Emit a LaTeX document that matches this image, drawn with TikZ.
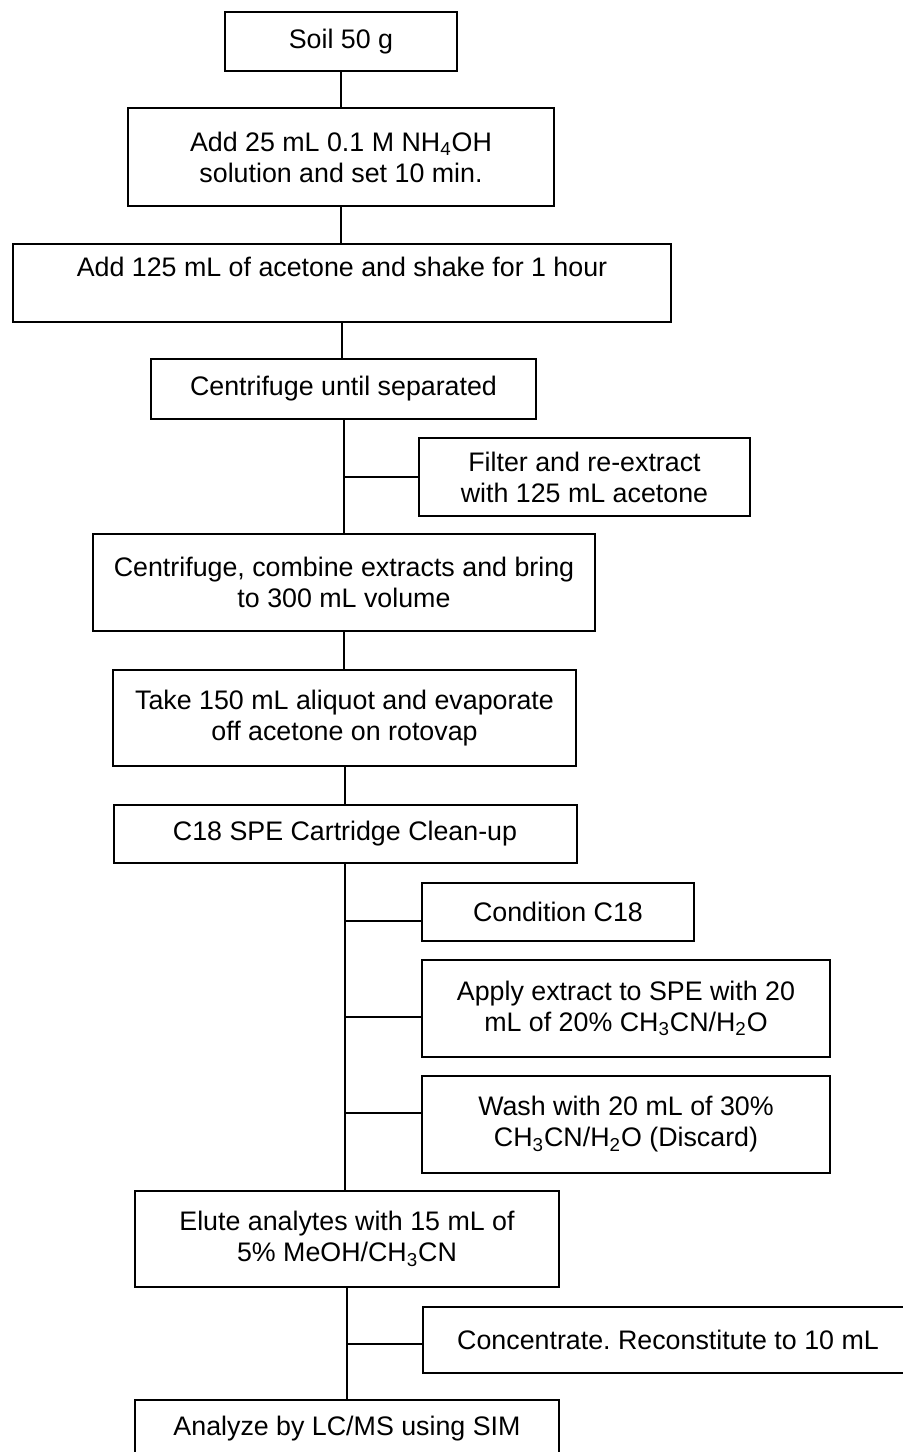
\documentclass[tikz,border=0pt]{standalone}
\usepackage{fontspec}
\setmainfont{Liberation Sans}
\usetikzlibrary{calc}

\begin{document}
\begin{tikzpicture}[x=0.5pt, y=-0.5pt, line width=1pt,
  stepbox/.style={draw, align=center, inner sep=0pt,
    font=\fontsize{13.4}{15.5}\selectfont\frenchspacing}]%
  \useasboundingbox (0,0) rectangle (903,1452);
  % main steps
  \node[stepbox, minimum width=116pt, minimum height=29.5pt] (soil) at (341,41.5) {Soil 50 g};
  \node[stepbox, minimum width=213pt, minimum height=49pt] (ammonia) at (341,157)
    {Add 25 mL 0.1 M NH\textsubscript{4}OH\\solution and set 10 min.};
  \node[stepbox, minimum width=329pt, minimum height=39pt, text depth=16pt] (acetone) at (342,283)
    {Add 125 mL of acetone and shake for 1 hour};
  \node[stepbox, minimum width=192.5pt, minimum height=30pt] (centrifuge) at (343.5,389)
    {Centrifuge until separated};
  \node[stepbox, minimum width=251pt, minimum height=48.5pt] (combine) at (344,582.5)
    {Centrifuge, combine extracts and bring\\to 300 mL volume};
  \node[stepbox, minimum width=231.5pt, minimum height=48pt] (aliquot) at (344.5,718)
    {Take 150 mL aliquot and evaporate\\off acetone on rotovap};
  \node[stepbox, minimum width=231.5pt, minimum height=29pt] (cleanup) at (345,834)
    {C18 SPE Cartridge Clean-up};
  \node[stepbox, minimum width=212pt, minimum height=48pt] (elute) at (347,1239)
    {Elute analytes with 15 mL of\\5\% MeOH/CH\textsubscript{3}CN};
  \node[stepbox, minimum width=212pt, minimum height=29pt] (analyze) at (347,1429)
    {Analyze by LC/MS using SIM};
  % side steps
  \node[stepbox, minimum width=165.5pt, minimum height=39pt] (filter) at (584.5,477)
    {Filter and re-extract\\with 125 mL acetone};
  \node[stepbox, minimum width=136pt, minimum height=29pt] (condition) at (558,912)
    {Condition C18};
  \node[stepbox, minimum width=204pt, minimum height=48.5pt] (apply) at (626,1008.5)
    {Apply extract to SPE with 20\\mL of 20\% CH\textsubscript{3}CN/H\textsubscript{2}O};
  \node[stepbox, minimum width=204pt, minimum height=48.5pt] (wash) at (626,1124.5)
    {Wash with 20 mL of 30\%\\CH\textsubscript{3}CN/H\textsubscript{2}O (Discard)};
  \node[stepbox, minimum width=245pt, minimum height=33pt] (concentrate) at (668,1339.5)
    {Concentrate. Reconstitute to 10 mL};

  \foreach \a/\b in {soil/ammonia, ammonia/acetone, acetone/centrifuge,
    centrifuge/combine, combine/aliquot, aliquot/cleanup, cleanup/elute, elute/analyze}
    \draw (\a.south) -- (\a.south |- \b.north);

  \coordinate (filterjoint) at (343.5,477);
  \coordinate (conditionjoint) at (345,921);
  \coordinate (applyjoint) at (345,1017);
  \coordinate (washjoint) at (345,1113);
  \coordinate (concentratejoint) at (347,1344);
  \foreach \b in {filter, condition, apply, wash, concentrate}
    \draw (\b joint) -- (\b joint -| \b.west);
\end{tikzpicture}
\end{document}
